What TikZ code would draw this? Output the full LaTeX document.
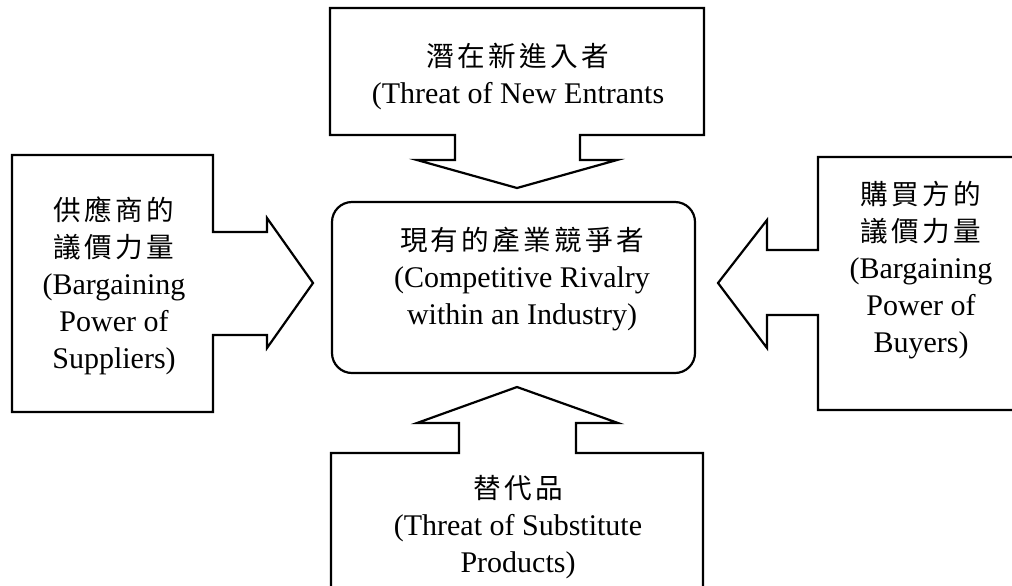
\documentclass[tikz,border=0pt]{standalone}
\usepackage{fontspec}
\setmainfont{Liberation Serif}
\newfontfamily\cjk[LetterSpace=12]{Noto Sans CJK TC}
\usetikzlibrary{positioning}

\newcommand{\zh}[1]{{\cjk\fontsize{13.8}{18.5}\selectfont #1}}

\tikzset{
  forcebox/.style={draw,line width=1.1pt,line join=miter,fill=white},
  forcetext/.style={align=center,inner sep=0pt,font=\fontsize{15}{18.5}\selectfont},
}

\begin{document}
\begin{tikzpicture}[x=0.5pt,y=-0.5pt]
  \useasboundingbox (0,0) rectangle (1012,585);

  % arrow boxes
  \draw[forcebox] (330,8) -- (704,8) -- (704,135) -- (580,135) -- (580,160) -- (617,160)
    -- (517,188) -- (417,160) -- (455,160) -- (455,135) -- (330,135) -- cycle;
  \draw[forcebox] (12,155) -- (213,155) -- (213,232) -- (267,232) -- (267,218) -- (313,283)
    -- (267,348) -- (267,335) -- (213,335) -- (213,412) -- (12,412) -- cycle;
  \draw[forcebox] (1030,157) -- (818,157) -- (818,250) -- (767,250) -- (767,220) -- (718,283)
    -- (767,348) -- (767,315) -- (818,315) -- (818,410) -- (1030,410) -- cycle;
  \draw[forcebox] (331,600) -- (331,453) -- (459,453) -- (459,423) -- (417,423) -- (517,387)
    -- (618,423) -- (576,423) -- (576,453) -- (703,453) -- (703,600);

  % center
  \draw[forcebox,rounded corners=10pt] (332,202) rectangle (695,373);

  \node[forcetext] (entrants) at (518,77) {\zh{潛在新進入者}\\(Threat of New Entrants};
  \node[forcetext] (suppliers) at (114,286) {\zh{供應商的}\\\zh{議價力量}\\(Bargaining\\Power of\\Suppliers)};
  \node[forcetext] (rivalry) at (522,279) {\zh{現有的產業競爭者}\\(Competitive Rivalry\\within an Industry)};
  \node[forcetext] (buyers) at (921,270) {\zh{購買方的}\\\zh{議價力量}\\(Bargaining\\Power of\\Buyers)};
  \node[forcetext] (substitutes) at (518,527) {\zh{替代品}\\(Threat of Substitute\\Products)};
\end{tikzpicture}
\end{document}
